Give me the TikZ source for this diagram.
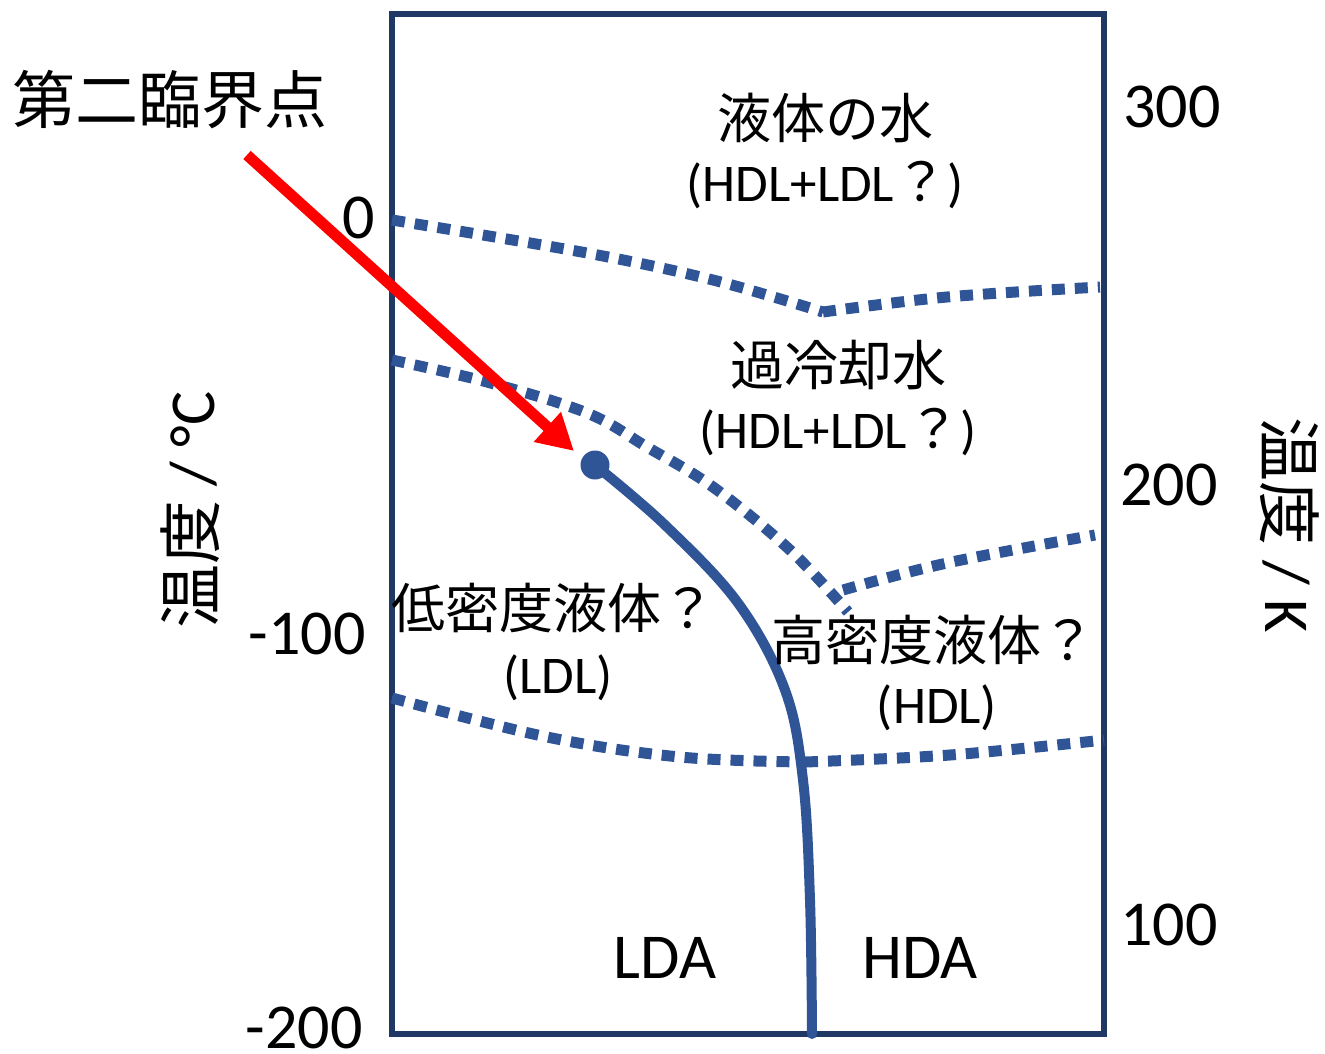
\documentclass[tikz,border=0pt]{standalone}
\usepackage{fontspec}
\setmainfont{Carlito}
\newfontfamily\jp{Noto Sans CJK JP}
\usetikzlibrary{arrows.meta}
\definecolor{navy}{HTML}{203864}
\definecolor{phase}{HTML}{2F5597}
\definecolor{redarrow}{HTML}{FF0000}
\tikzset{
  lbl/.style={inner sep=0pt, anchor=center, text=black},
  big/.style={lbl, font=\fontsize{64}{64}\selectfont},
  jpl/.style={lbl, font=\jp\fontsize{54}{54}\selectfont},
  paren/.style={lbl, font=\fontsize{53}{53}\selectfont},
  dotline/.style={phase, line width=11pt, dash pattern=on 13pt off 10pt},
  boundary/.style={phase, line width=10pt, line cap=round},
}
\begin{document}
\begin{tikzpicture}[x=1pt,y=-1pt]
\useasboundingbox (0,0) rectangle (1325,1053);
% frame
\draw[navy, line width=6pt] (392,14) rectangle (1104,1034);
% dotted phase lines
\draw[dotline] plot[smooth, tension=0.6] coordinates {(392,220) (587,253) (713,280) (823,312)};
\draw[dotline] plot[smooth, tension=0.6] coordinates {(823,312) (947,297) (1100,287)};
\draw[dotline] plot[smooth, tension=0.6] coordinates {(392,360) (487,382) (587,413) (647,447) (713,487) (790,550) (848,612)};
\draw[dotline] plot[smooth, tension=0.6] coordinates {(843,590) (947,563) (1095,535)};
\draw[dotline] plot[smooth, tension=0.6] coordinates {(392,698) (547,737) (680,757) (805,762)};
\draw[dotline] plot[smooth, tension=0.6] coordinates {(805,762) (950,755) (1104,740)};
% boundary curve with critical point
\node[circle, fill=phase, minimum size=29pt, inner sep=0pt] (cp) at (595,465) {};
\draw[boundary] plot[smooth, tension=0.6] coordinates {(595,465) (665,525) (738,603) (785,690) (803,780) (810,900) (812,1034)};
% labels
\node[lbl, font=\jp\fontsize{63}{63}\selectfont] (crit) at (170,100) {第二臨界点};
\coordinate (arrstart) at (247,155);
\coordinate (arrend) at (574,451);
\draw[redarrow, line width=11pt, -{Triangle[length=36pt,width=38pt]}] (arrstart) -- (arrend);
% axis numbers
\node[big, anchor=east] (t0) at (375,218) {0};
\node[big, anchor=east] (tm100) at (366,634) {-100};
\node[big, anchor=east] (tm200) at (363,1028) {-200};
\node[big, anchor=west] (k300) at (1123,107) {300};
\node[big, anchor=west] (k200) at (1120,485) {200};
\node[big, anchor=west] (k100) at (1120,925) {100};
% axis titles
\node[big, rotate=90] (ylabC) at (190,510) {{\jp 温度} / °C};
\node[big, rotate=-90] (ylabK) at (1290,525) {{\jp 温度} / K};
% region labels
\node[jpl] (liq) at (825,118) {液体の水};
\node[paren] (liq2) at (825,185) {(HDL+LDL{\jp ？})};
\node[jpl] (sup) at (838,365) {過冷却水};
\node[paren] (sup2) at (838,432) {(HDL+LDL{\jp ？})};
\node[jpl] (ldl) at (553,608) {低密度液体？};
\node[paren] (ldl2) at (558,678) {(LDL)};
\node[jpl] (hdl) at (933,640) {高密度液体？};
\node[paren] (hdl2) at (937,708) {(HDL)};
\node[big] (lda) at (665,958) {LDA};
\node[big] (hda) at (920,958) {HDA};
\end{tikzpicture}
\end{document}
